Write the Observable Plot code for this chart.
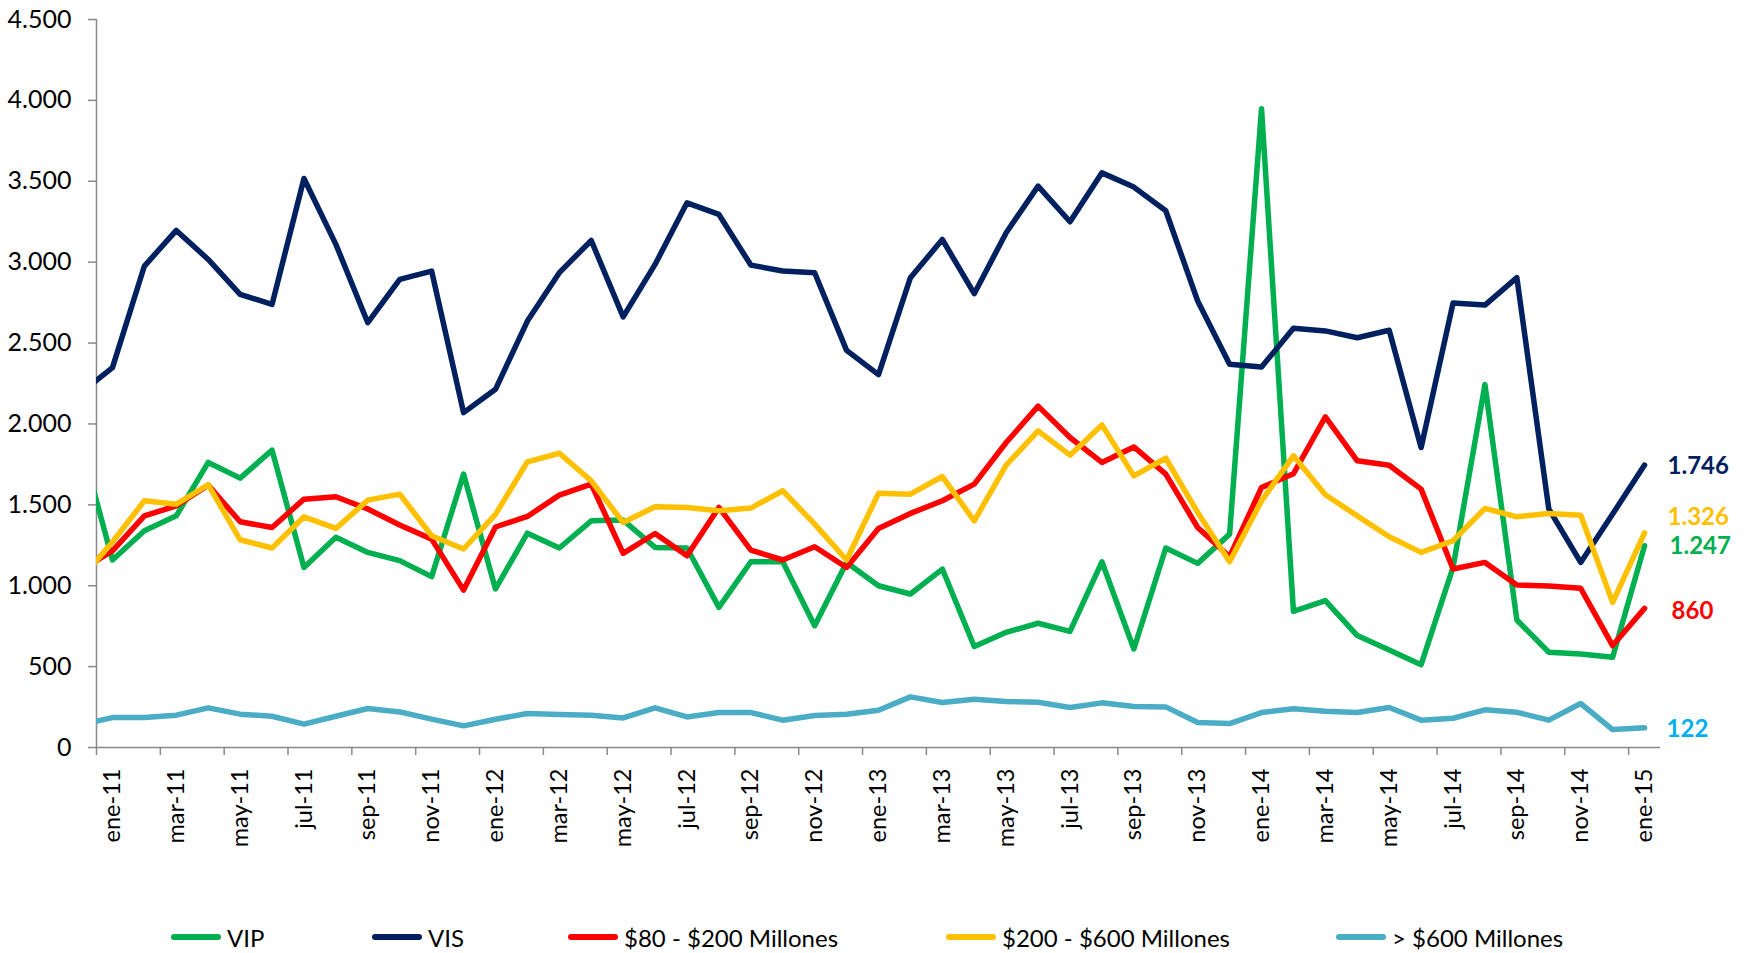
<!DOCTYPE html>
<html>
<head>
<meta charset="utf-8">
<script src="https://cdn.jsdelivr.net/npm/d3@7"></script>
<script src="https://cdn.jsdelivr.net/npm/@observablehq/plot@0.6"></script>
<style>
  html, body { margin: 0; padding: 0; background: #fff; }
  body { font-family: Lato, "Open Sans", sans-serif; width: 1750px; height: 953px; overflow: hidden; }
  #legend { position: relative; width: 1750px; height: 48px; }
  .item { position: absolute; top: 0; height: 64px; display: flex; align-items: center; font-size: 24px; color: #000; white-space: nowrap; }
  .sw { width: 50px; height: 5.5px; border-radius: 3px; margin-right: 6px; }
</style>
</head>
<body>
<div id="chart"></div>
<div id="legend"></div>
<script>
// Months (first one is a lead-in month, clipped at the left edge of the plot)
const months = [
  "dic-10",
  "ene-11","feb-11","mar-11","abr-11","may-11","jun-11","jul-11","ago-11","sep-11","oct-11","nov-11","dic-11",
  "ene-12","feb-12","mar-12","abr-12","may-12","jun-12","jul-12","ago-12","sep-12","oct-12","nov-12","dic-12",
  "ene-13","feb-13","mar-13","abr-13","may-13","jun-13","jul-13","ago-13","sep-13","oct-13","nov-13","dic-13",
  "ene-14","feb-14","mar-14","abr-14","may-14","jun-14","jul-14","ago-14","sep-14","oct-14","nov-14","dic-14",
  "ene-15"
];

const seriesNames = ["VIP", "VIS", "$80 - $200 Millones", "$200 - $600 Millones", "> $600 Millones"];

const vip = [1890,
  1159,1340,1432,1762,1665,1838,1113,1299,1206,1155,1056,1690,
  980,1325,1233,1401,1406,1237,1233,866,1148,1148,753,1144,
  1000,949,1103,624,712,768,718,1148,609,1233,1138,1319,
  3949,842,908,692,603,512,1113,2243,788,589,578,558,
  1247];

const vis = [2192,
  2348,2976,3196,3017,2801,2739,3517,3110,2626,2894,2945,2070,
  2214,2636,2935,3134,2662,2986,3367,3295,2982,2945,2935,2455,
  2305,2904,3140,2805,3182,3470,3250,3552,3464,3318,2760,2369,
  2352,2591,2575,2533,2579,1854,2747,2735,2904,1475,1144,1443,
  1746];

const m80_200 = [1094,
  1216,1432,1494,1622,1395,1360,1535,1550,1474,1375,1288,973,
  1363,1428,1560,1628,1200,1323,1185,1484,1220,1159,1241,1113,
  1354,1447,1525,1628,1885,2110,1916,1762,1858,1690,1360,1179,
  1607,1692,2044,1772,1745,1597,1103,1144,1004,998,984,630,
  860];

const m200_600 = [1040,
  1270,1525,1504,1624,1284,1233,1426,1354,1529,1566,1309,1227,
  1441,1766,1819,1648,1391,1488,1484,1463,1480,1587,1381,1159,
  1571,1566,1675,1401,1745,1957,1807,1994,1679,1788,1453,1148,
  1525,1803,1562,1432,1303,1206,1278,1478,1426,1447,1436,897,
  1326];

const m600 = [141,
  185,185,200,245,206,193,144,193,241,220,175,134,
  175,210,204,200,183,245,189,216,216,169,198,206,
  230,313,278,298,284,280,247,276,253,251,154,148,
  216,239,224,216,247,169,181,233,218,169,272,111,
  122];

const yTicks = [0, 500, 1000, 1500, 2000, 2500, 3000, 3500, 4000, 4500];

// ---- styling (kept apart from data) ----
const lineColors = ["#00B050", "#002060", "#FF0000", "#FFC000", "#4BACC6"];
const labelColors = ["#00B050", "#002060", "#FF0000", "#FFC000", "#00B0F0"];
const labelNudge = [ {dx: 25, dy: 1}, {dx: 23, dy: 1}, {dx: 27, dy: 3}, {dx: 23, dy: -16}, {dx: 22, dy: 2} ];
const axisGray = "#898989";

const allValues = [vip, vis, m80_200, m200_600, m600];
const rows = allValues.flatMap((vals, s) => vals.map((v, k) => ({serie: seriesNames[s], k, v, month: months[k]})));
const xOf = k => k - 0.5; // category k spans [k-1, k]; centre at k-0.5

const fmt = d => d3.format(",")(d).replace(/,/g, ".");

const labelRows = months.map((m, k) => ({m, k})).filter(d => d.k % 2 === 1);
const lastK = months.length - 1;
const endRows = allValues.map((vals, s) => ({s, k: lastK, v: vals[lastK]}));

const endMarks = endRows.map(d => Plot.text([d], {
  x: e => xOf(e.k), y: "v", text: e => fmt(e.v),
  fill: labelColors[d.s], fontWeight: "bold", fontSize: 24,
  textAnchor: "start", lineAnchor: "middle",
  dx: labelNudge[d.s].dx, dy: labelNudge[d.s].dy
}));

const chart = Plot.plot({
  width: 1750,
  height: 905,
  marginLeft: 96,
  marginRight: 90,
  marginTop: 19,
  marginBottom: 158,
  style: {fontFamily: "Lato, 'Open Sans', sans-serif", fontSize: "24px", color: "#000", background: "#fff"},
  x: {domain: [0, months.length - 1], axis: null},
  y: {domain: [0, 4500], axis: null},
  color: {domain: seriesNames, range: lineColors},
  marks: [
    // y axis ticks and labels
    Plot.axisY({ticks: yTicks, tickSize: 8, tickFormat: () => "", label: null, stroke: axisGray, strokeWidth: 1.5}),
    Plot.axisY({ticks: yTicks, tickSize: 0, tickPadding: 25, tickFormat: fmt, label: null, fill: "#000", fontSize: 25}),
    // x axis ticks at every other category boundary
    Plot.axisX({ticks: d3.range(0, months.length - 1, 2), tickSize: 8, tickFormat: () => "", label: null, stroke: axisGray, strokeWidth: 1.5}),
    // x labels
    Plot.text(labelRows, {
      x: d => xOf(d.k), text: "m", frameAnchor: "bottom",
      rotate: -90, textAnchor: "end", lineAnchor: "middle",
      dy: 21, fontSize: 23.5, fill: "#000"
    }),
    // axis lines
    Plot.ruleX([0], {stroke: axisGray, strokeWidth: 1.5}),
    Plot.ruleY([0], {stroke: axisGray, strokeWidth: 1.5}),
    // series lines
    Plot.line(rows, {
      x: d => xOf(d.k), y: "v", z: "serie", stroke: "serie",
      strokeWidth: 5.5, strokeLinejoin: "round", strokeLinecap: "round", clip: true
    }),
    ...endMarks
  ]
});
document.getElementById("chart").appendChild(chart);

// Legend below the SVG
const legendLeft = [171, 372, 568, 946, 1336];
const legend = document.getElementById("legend");
seriesNames.forEach((name, i) => {
  const item = document.createElement("div");
  item.className = "item";
  item.style.left = legendLeft[i] + "px";
  const sw = document.createElement("div");
  sw.className = "sw";
  sw.style.background = lineColors[i];
  const tx = document.createElement("span");
  tx.textContent = name;
  item.appendChild(sw);
  item.appendChild(tx);
  legend.appendChild(item);
});
</script>
</body>
</html>
